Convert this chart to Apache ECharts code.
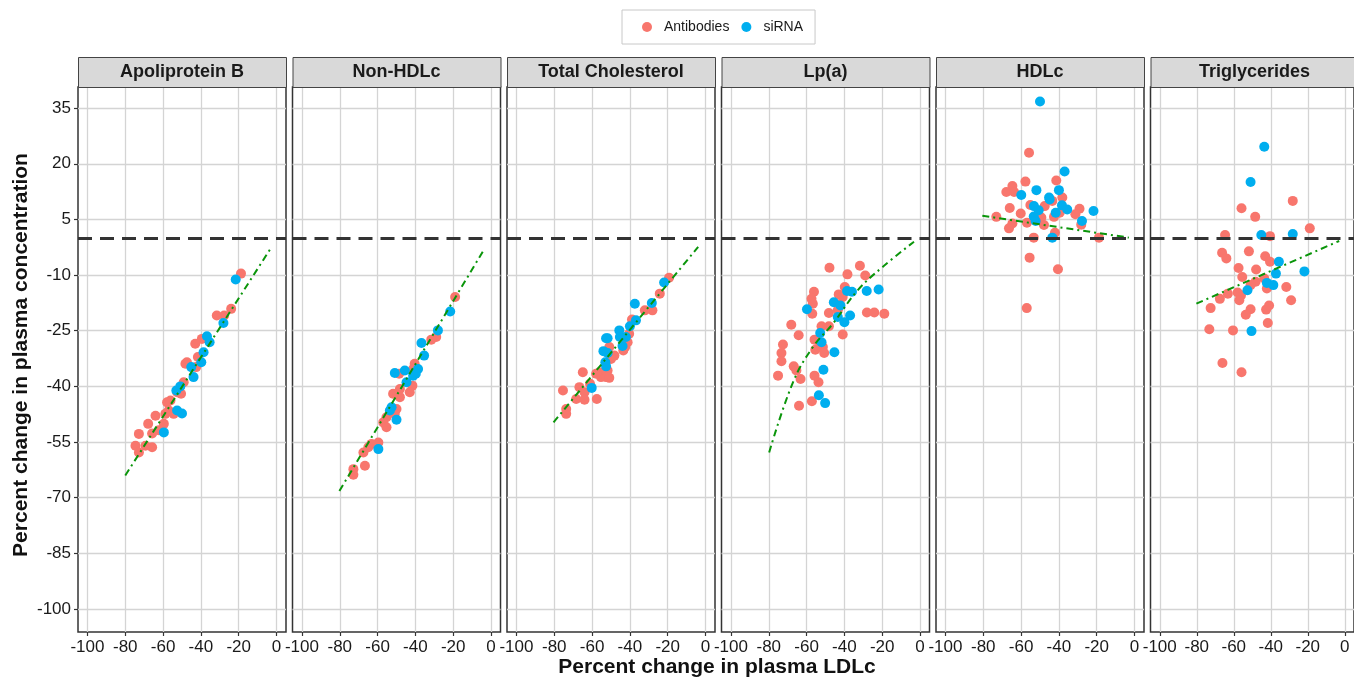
<!DOCTYPE html>
<html>
<head>
<meta charset="utf-8">
<script src="https://cdn.jsdelivr.net/npm/echarts@6/dist/echarts.min.js"></script>
<style>
  html, body { margin: 0; padding: 0; background: #fff; }
  #main { width: 1354px; height: 679px; }
</style>
</head>
<body>
<div id="main"></div>
<script>
// facet titles and axis ticks
const panels = ['Apoliprotein B', 'Non-HDLc', 'Total Cholesterol', 'Lp(a)', 'HDLc', 'Triglycerides'];
const xTicks = [-100, -80, -60, -40, -20, 0];
const yTicks = [35, 20, 5, -10, -25, -40, -55, -70, -85, -100];

// [percent change LDLc, percent change in marker]
const apoB_ab = [[-18.8,-9.6],[-24,-19.1],[-27.7,-20.9],[-31.6,-20.9],[-39.5,-27.2],[-43,-28.5],[-41.6,-32.1],[-42.5,-34.8],[-47.4,-33.5],[-48.2,-33.9],[-49.1,-38.9],[-50.5,-42],[-52.6,-41.6],[-56.1,-43.8],[-57.9,-44.3],[-57,-46.5],[-54.4,-47.4],[-58.8,-47.4],[-64,-47.9],[-67.9,-50.1],[-59.6,-50.1],[-62.3,-51.8],[-65.8,-52.7],[-72.8,-52.8],[-74.6,-56],[-72.8,-57.8],[-65.8,-56.4],[-69.3,-56]];
const apoB_si = [[-21.6,-11.2],[-28.1,-22.9],[-36.8,-26.5],[-35.4,-28.1],[-38.6,-30.8],[-39.8,-33.5],[-45.1,-34.8],[-43.9,-37.5],[-50.9,-40],[-53,-41.1],[-52.6,-46.5],[-50,-47.3],[-59.6,-52.4]];
const apoB_fit = [[-80,-64],[-2.6,-2.4]];

const nonHdl_ab = [[-19,-15.9],[-29,-26.7],[-31.6,-27.4],[-40.4,-33.9],[-41.2,-35.3],[-48.6,-36.6],[-41.6,-39.8],[-43,-41.6],[-48.2,-40.7],[-48.2,-42.9],[-51.8,-42],[-50,-46.1],[-50.9,-47.4],[-55.3,-48.3],[-57,-49.7],[-55.3,-51],[-59.6,-55.1],[-63.2,-55.5],[-64.9,-56.4],[-67.5,-57.8],[-66.7,-61.4],[-72.8,-62.3],[-72.8,-63.8]];
const nonHdl_si = [[-21.6,-19.8],[-28.1,-24.9],[-36.8,-28.3],[-35.4,-31.7],[-38.6,-35.3],[-39.8,-36.6],[-45.6,-35.7],[-50.9,-36.4],[-41.2,-37.1],[-44.7,-38.9],[-52.6,-45.6],[-53.5,-46.5],[-50,-49],[-59.6,-56.9]];
const nonHdl_fit = [[-80.2,-68.2],[-4.4,-3.7]];

const tc_ab = [[-19.3,-10.7],[-24.2,-15],[-28.1,-19.5],[-32.1,-19.5],[-38.9,-22],[-40.4,-25.8],[-41.2,-28.1],[-42.5,-29.4],[-43.5,-30.3],[-48.2,-31.7],[-50.9,-29.4],[-50,-32.6],[-51.8,-35.7],[-56.1,-36.2],[-55.3,-37.5],[-52.6,-37.5],[-50.9,-37.7],[-57.9,-36.6],[-64.9,-36.2],[-61.1,-39.3],[-66.7,-40.2],[-64,-41.6],[-68.4,-43.4],[-64,-43.6],[-57.5,-43.4],[-75.4,-41.1],[-73.7,-46.1],[-73.7,-47.4]];
const tc_si = [[-21.9,-12],[-28.4,-17.5],[-37.4,-17.7],[-36.8,-22.2],[-40,-23.8],[-45.6,-24.9],[-42.1,-26.7],[-45.3,-26.7],[-51.8,-27],[-52.6,-27],[-43.9,-29.1],[-54,-30.5],[-51.8,-31],[-53,-33.5],[-52.6,-34.6],[-60.2,-40.4]];
const tc_fit = [[-80.4,-49.7],[-3.9,-2.4]];

const lpa_ab = [[-47.9,-8],[-31.8,-7.5],[-38.4,-9.8],[-29,-10.1],[-39.8,-13.2],[-43,-15.2],[-56.1,-14.5],[-57.4,-16.4],[-56.7,-17.7],[-40.9,-15.9],[-42.6,-17.9],[-43.5,-19.5],[-48.2,-20.2],[-57,-20.4],[-28.1,-20.1],[-24.2,-20.1],[-18.9,-20.4],[-68.1,-23.4],[-48.2,-23.8],[-52.1,-23.8],[-64.2,-26.2],[-40.9,-26],[-72.5,-28.7],[-55.8,-27.4],[-52.8,-28.5],[-51.4,-29.4],[-73.3,-31],[-55.4,-30.1],[-50.7,-31],[-73.3,-33.2],[-66.8,-34.6],[-65.4,-35.7],[-75.1,-37.1],[-55.8,-37.1],[-63.2,-38],[-53.7,-38.9],[-64,-45.2],[-57.2,-44]];
const lpa_si = [[-38.6,-14.3],[-36,-14.5],[-28.2,-14.3],[-21.9,-13.9],[-45.6,-17.3],[-42.1,-18.2],[-37,-20.9],[-43.5,-21.3],[-40,-22.7],[-59.8,-19.2],[-52.8,-25.6],[-52.1,-28.1],[-45.3,-30.8],[-51.1,-35.5],[-53.5,-42.4],[-50.2,-44.5]];
const lpa_fit = [[-79.8,-57.8],[-67.2,-38.9],[-56.7,-29.4],[-46.1,-23.1],[-33,-14.1],[-19.8,-7.8],[-3.2,-1]];

const hdl_ab = [[-55.8,23],[-57.7,15.2],[-41.4,15.5],[-64.6,14],[-67.8,12.4],[-63.7,12.4],[-38.2,10.9],[-43.5,10],[-55.1,8.9],[-47.5,8.6],[-66,8.1],[-29.1,7.9],[-60.2,6.6],[-39.6,6.8],[-31.3,6.4],[-73.1,5.7],[-49.3,5.5],[-42.6,5.7],[-56.9,4.1],[-64.6,3.9],[-47.9,3.5],[-28.2,3.6],[-66.4,2.6],[-42.1,1.4],[-53.3,0.1],[-18.8,0.1],[-55.5,-5.3],[-40.5,-8.4],[-57,-18.9]];
const hdl_si = [[-50,36.8],[-37,17.9],[-51.9,12.9],[-40,12.9],[-59.9,11.6],[-45.2,10.9],[-44.9,10.4],[-53.2,8.6],[-50.7,7.5],[-38.4,8.8],[-35.6,7.7],[-41.7,6.8],[-21.7,7.3],[-53.3,5.8],[-52.3,4.6],[-27.8,4.6],[-43.5,0.1]];
const hdl_fit = [[-80.5,6],[-3,0.1]];

const tg_ab = [[-28.1,10],[-55.8,8],[-48.4,5.7],[-18.9,2.6],[-64.7,0.8],[-40.4,0.5],[-66.3,-4],[-64,-5.5],[-51.8,-3.6],[-43,-4.9],[-40.4,-6.4],[-57.4,-8.1],[-47.9,-8.5],[-55.4,-10.5],[-48.2,-11.8],[-43.5,-10.9],[-50.9,-12.7],[-42.1,-13.6],[-57.9,-14.7],[-63.2,-15],[-56.1,-15.5],[-67.5,-16.4],[-57,-16.8],[-31.6,-13.2],[-29,-16.8],[-72.5,-18.9],[-50.9,-19.2],[-53.5,-20.7],[-42.5,-19.3],[-40.9,-18.2],[-41.6,-22.9],[-73.2,-24.6],[-60.4,-24.9],[-66.1,-33.7],[-55.8,-36.2]];
const tg_si = [[-43.5,24.6],[-50.9,15.1],[-45.1,0.8],[-28.1,1.1],[-35.6,-6.4],[-21.8,-9],[-37.2,-9.6],[-42.1,-12.1],[-38.6,-12.7],[-52.6,-14.1],[-50.4,-25.1]];
const tg_fit = [[-80.2,-17.7],[-3,-0.8]];

const abData = [apoB_ab, nonHdl_ab, tc_ab, lpa_ab, hdl_ab, tg_ab];
const siData = [apoB_si, nonHdl_si, tc_si, lpa_si, hdl_si, tg_si];
const fitData = [apoB_fit, nonHdl_fit, tc_fit, lpa_fit, hdl_fit, tg_fit];

let myChart = echarts.init(document.getElementById('main'));

// panel layout (px)
const left0 = 78, step = 214.5, pw = 208, gridTop = 87, ph = 545, stripH = 30;
const font = '"Liberation Sans", Arial, sans-serif';
const red = '#F8766D', blue = '#00AEEF';

let grids = [], xAxes = [], yAxes = [], series = [], graphics = [];

panels.forEach((name, i) => {
  let gl = left0 + i * step;
  grids.push({
    left: gl, top: gridTop, width: pw, height: ph,
    show: true, borderColor: '#333', borderWidth: 1.5, backgroundColor: '#fff'
  });
  xAxes.push({
    gridIndex: i, type: 'value', min: -105, max: 5, position: 'bottom',
    axisLine: { show: false, onZero: false },
    axisTick: { show: true, length: 4, customValues: xTicks, lineStyle: { color: '#333', width: 1.2 } },
    axisLabel: { customValues: xTicks, fontSize: 17, color: '#1a1a1a', margin: 7, fontFamily: font },
    splitLine: { show: true, lineStyle: { color: '#d4d4d4', width: 1.3 } }
  });
  yAxes.push({
    gridIndex: i, type: 'value', min: -106.2, max: 40.7, position: 'left',
    axisLine: { show: false, onZero: false },
    axisTick: { show: i === 0, length: 4, customValues: yTicks, lineStyle: { color: '#333', width: 1.2 } },
    axisLabel: { show: i === 0, customValues: yTicks, fontSize: 17, color: '#1a1a1a', margin: 7, fontFamily: font },
    splitLine: { show: true, lineStyle: { color: '#d4d4d4', width: 1.3 } }
  });
  // reference line at 0
  series.push({
    type: 'line', xAxisIndex: i, yAxisIndex: i, data: [], z: 1, silent: true,
    markLine: {
      silent: true, symbol: 'none', label: { show: false },
      lineStyle: { color: '#333', type: [14, 8], width: 3 },
      data: [{ yAxis: 0 }]
    }
  });
  series.push({
    name: 'Antibodies', type: 'scatter', xAxisIndex: i, yAxisIndex: i, z: 2,
    symbolSize: 10, itemStyle: { color: red, opacity: 1 }, data: abData[i]
  });
  series.push({
    name: 'siRNA', type: 'scatter', xAxisIndex: i, yAxisIndex: i, z: 3,
    symbolSize: 10, itemStyle: { color: blue, opacity: 1 }, data: siData[i]
  });
  series.push({
    type: 'line', xAxisIndex: i, yAxisIndex: i, z: 4, silent: true,
    showSymbol: false, smooth: i === 3 ? 0.4 : false,
    lineStyle: { color: '#0a950a', width: 2, type: [7, 4, 2, 4] },
    data: fitData[i]
  });
  // facet strip
  graphics.push({
    type: 'rect', left: gl, top: gridTop - stripH, z: 10,
    shape: { width: pw, height: stripH },
    style: { fill: '#d9d9d9', stroke: '#444', lineWidth: 1 }
  });
  graphics.push({
    type: 'text', x: gl + pw / 2, y: gridTop - stripH / 2, z: 11,
    style: { text: name, font: 'bold 18px ' + font, fill: '#1a1a1a', textAlign: 'center', textVerticalAlign: 'middle' }
  });
});

graphics.push({
  type: 'text', x: 717, y: 667,
  style: { text: 'Percent change in plasma LDLc', font: 'bold 21px ' + font, fill: '#111', textAlign: 'center', textVerticalAlign: 'middle' }
});
graphics.push({
  type: 'text', x: 21, y: 355, rotation: Math.PI / 2,
  style: { text: 'Percent change in plasma concentration', font: 'bold 21px ' + font, fill: '#111', textAlign: 'center', textVerticalAlign: 'middle' }
});

myChart.setOption({
  animation: false,
  legend: {
    data: ['Antibodies', 'siRNA'],
    left: 622, top: 10,
    padding: [10, 12, 10, 20],
    itemGap: 12, itemWidth: 10, itemHeight: 10, icon: 'circle',
    borderColor: '#c8c8c8', borderWidth: 1,
    textStyle: { fontSize: 14, color: '#1a1a1a', fontFamily: font, padding: [0, 0, 0, 7] }
  },
  grid: grids,
  xAxis: xAxes,
  yAxis: yAxes,
  series: series,
  graphic: graphics
});
</script>
</body>
</html>
